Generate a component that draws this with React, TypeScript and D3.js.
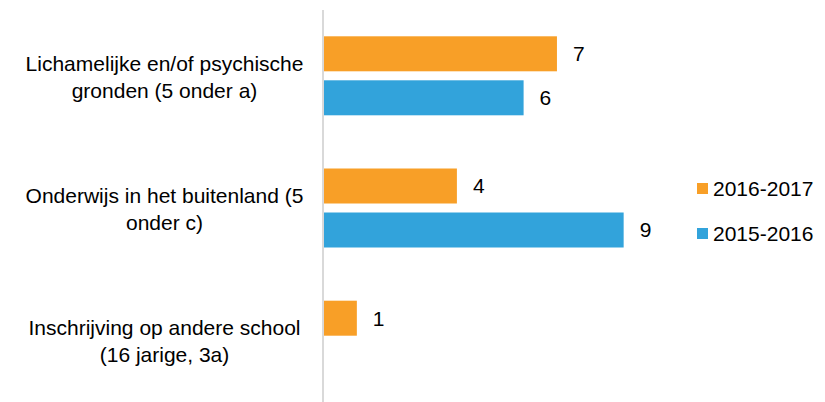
import React from "react";
import * as d3 from "d3";

const categories = [
  ["Lichamelijke en/of psychische", "gronden (5 onder a)"],
  ["Onderwijs in het buitenland (5", "onder c)"],
  ["Inschrijving op andere school", "(16 jarige, 3a)"],
];
const seriesNames = ["2016-2017", "2015-2016"];
const values2016 = [7, 4, 1];
const values2015 = [6, 9, null];
const seriesValues = [values2016, values2015];
const colors = ["#F89F27", "#32A3DB"];

const W = 825;
const H = 402;
const FONT = "'Liberation Sans', Arial, sans-serif";
const FS = 21;

export default function App() {
  const catKeys = categories.map((_, i) => String(i));
  const y = d3
    .scaleBand<string>()
    .domain(catKeys)
    .range([9.7, 406.3])
    .paddingInner(0.4024)
    .paddingOuter(0.2012);
  const yInner = d3
    .scaleBand<string>()
    .domain(seriesNames)
    .range([0, y.bandwidth()])
    .paddingInner(9 / 44)
    .paddingOuter(0);
  const x = d3.scaleLinear().domain([0, 10]).range([323.5, 657]);

  return (
    <svg width={W} height={H} style={{ position: "absolute", left: 0, top: 0, background: "#fff" }}>
      <rect x={0} y={0} width={W} height={H} fill="#fff" />
      {seriesNames.map((s, si) =>
        seriesValues[si].map((v, ci) => {
          if (v == null) return null;
          const by = (y(String(ci)) as number) + (yInner(s) as number);
          const bw = x(v) - x(0);
          return (
            <g key={s + ci}>
              <rect x={x(0)} y={by} width={bw} height={yInner.bandwidth()} fill={colors[si]} />
              <text
                x={x(v) + 16}
                y={by + yInner.bandwidth() / 2}
                dy="0.35em"
                fontFamily={FONT}
                fontSize={FS}
                fill="#000"
              >
                {v}
              </text>
            </g>
          );
        })
      )}
      <line x1={323} x2={323} y1={10} y2={410} stroke="#d9d9d9" strokeWidth={2} />
      {categories.map((lines, ci) => {
        const cy = (y(String(ci)) as number) + y.bandwidth() / 2 + 1;
        const lh = 27;
        return (
          <text key={ci} textAnchor="middle" fontFamily={FONT} fontSize={FS} fill="#000">
            {lines.map((ln, li) => (
              <tspan key={li} x={164.5} y={cy + (li - (lines.length - 1) / 2) * lh} dy="0.35em">
                {ln}
              </tspan>
            ))}
          </text>
        );
      })}
      {seriesNames.map((s, si) => {
        const ly = 188.5 + si * 45;
        return (
          <g key={s}>
            <rect x={697} y={ly - 5.5} width={11} height={11} fill={colors[si]} />
            <text x={713} y={ly} dy="0.35em" fontFamily={FONT} fontSize={FS} fill="#000">
              {s}
            </text>
          </g>
        );
      })}
    </svg>
  );
}
